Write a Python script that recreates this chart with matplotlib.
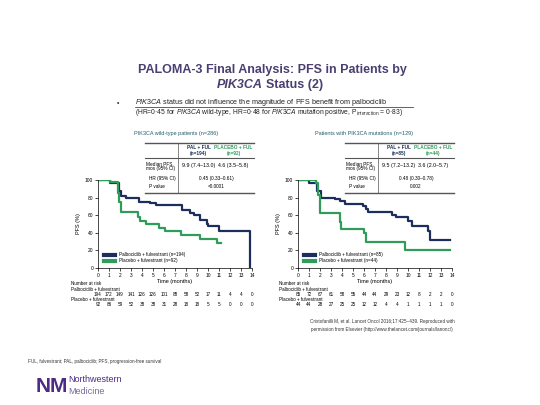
import matplotlib
matplotlib.use("Agg")
import matplotlib.pyplot as plt
from matplotlib.lines import Line2D

plt.rcParams['font.family'] = ['Liberation Sans', 'DejaVu Sans']
plt.rcParams['mathtext.fontset'] = 'custom'
plt.rcParams['mathtext.it'] = 'Liberation Sans:italic'
plt.rcParams['mathtext.rm'] = 'Liberation Sans'

# colours
NAVY = '#1c2f5c'
GREEN = '#2f9c5a'
TEAL = '#23606e'
TITLE = '#4a3f70'

# x ticks (months)
months = list(range(15))

# PIK3CA wild-type: step curves (time in months, PFS %)
wt_pal_t = [0, 1.1, 1.9, 2.1, 2.5, 3.7, 4.7, 5.3, 7.6, 8.4, 8.7, 9.3, 9.9, 10.0, 11.0, 13.85, 13.86]
wt_pal_s = [100, 97, 87, 82, 80, 75, 74, 72, 66, 63, 60, 54, 50, 48, 42, 42, 0]
wt_pbo_t = [0, 1.1, 1.8, 1.9, 2.1, 3.6, 3.8, 4.4, 5.5, 6.1, 7.5, 9.3, 10.8, 11.2]
wt_pbo_s = [100, 98, 85, 75, 64, 58, 53, 50, 45, 42, 37, 33, 28, 28]
wt_risk_pal = [194, 172, 149, 141, 126, 126, 101, 88, 58, 52, 17, 11, 4, 4, 0]
wt_risk_pbo = [92, 86, 59, 52, 38, 38, 31, 28, 18, 18, 5, 5, 0, 0, 0]

# PIK3CA mutation: step curves
mu_pal_t = [0, 1.0, 1.7, 2.1, 3.4, 3.8, 4.3, 5.9, 6.2, 6.4, 8.5, 8.9, 10.0, 10.4, 11.8, 12.0, 13.8]
mu_pal_s = [100, 97, 88, 80, 78, 76, 73, 70, 67, 64, 60, 58, 53, 48, 42, 32, 32]
mu_pbo_t = [0, 1.6, 1.8, 2.0, 3.6, 3.8, 3.9, 5.9, 6.0, 6.2, 9.7, 13.8]
mu_pbo_s = [100, 97, 83, 62, 62, 52, 44, 44, 40, 30, 20, 20]
mu_risk_pal = [85, 72, 67, 61, 58, 55, 44, 44, 29, 23, 12, 8, 2, 2, 0]
mu_risk_pbo = [44, 44, 28, 27, 25, 25, 12, 12, 4, 4, 1, 1, 1, 1, 0]

W, H = 540, 405
fig = plt.figure(figsize=(5.4, 4.05), dpi=100)


def fx(px):
    return px / W


def fy(py):
    return 1 - py / H


# title
fig.text(fx(272), fy(70), 'PALOMA-3 Final Analysis: PFS in Patients by', ha='center', va='center',
         fontsize=9, color=TITLE, fontweight='bold')
fig.text(fx(263), fy(85), 'PIK3CA', ha='right', va='center', fontsize=9, color=TITLE,
         fontweight='bold', fontstyle='italic')
fig.text(fx(266), fy(85), 'Status (2)', ha='left', va='center', fontsize=9, color=TITLE,
         fontweight='bold')

# bullet text
fig.text(fx(117), fy(103.5), '\u2022', ha='left', va='center', fontsize=5, color='#333333')
fig.text(fx(135), fy(103), r'$\it{PIK3CA}$ status did not influence the magnitude of PFS benefit from palbociclib',
         ha='left', va='center', fontsize=5.2, color='#222222')
fig.add_artist(Line2D([fx(135), fx(413)], [fy(106.8), fy(106.8)], color='#222222', lw=0.5))
fig.text(fx(135), fy(113), r'(HR=0·45 for $\it{PIK3CA}$ wild-type, HR=0·48 for $\it{PIK3CA}$ mutation positive, '
         r'P$_{\rm interaction}$ = 0·83)', ha='left', va='center', fontsize=4.9, color='#222222')


def km_panel(left_px, sub_x, nar_x, subtitle, pal_t, pal_s, pbo_t, pbo_s, risk_pal, risk_pbo,
             n_pal, n_pbo, med_pal, med_pbo, hr, pval):
    ax = fig.add_axes([fx(left_px), fy(268), fx(154), 88 / H])
    ax.step(pal_t, pal_s, where='post', color=NAVY, lw=1.6)
    ax.step(pbo_t, pbo_s, where='post', color=GREEN, lw=1.6)
    ax.set_xlim(0, 14)
    ax.set_ylim(0, 100)
    ax.set_xticks(months)
    ax.set_yticks([0, 20, 40, 60, 80, 100])
    ax.tick_params(labelsize=3.5, length=2, width=0.5, pad=1.5)
    for s in ['top', 'right']:
        ax.spines[s].set_visible(False)
    for s in ['left', 'bottom']:
        ax.spines[s].set_linewidth(0.5)
    ax.set_xlabel('Time (months)', fontsize=4, labelpad=1)
    ax.set_ylabel('PFS (%)', fontsize=4, labelpad=3)
    ax.legend(handles=[Line2D([], [], color=NAVY, lw=3),
                       Line2D([], [], color=GREEN, lw=3)],
              labels=['Palbociclib + fulvestrant (n=%d)' % n_pal,
                      'Placebo + fulvestrant (n=%d)' % n_pbo],
              loc='lower left', bbox_to_anchor=(0.02, 0.02), frameon=False,
              fontsize=3.3, handlelength=2.5, labelspacing=0.3, borderpad=0.1)

    # number at risk
    tr = ax.get_xaxis_transform()
    ax.text(nar_x, -0.18, 'Number at risk', transform=tr, fontsize=3.3, ha='left', va='center')
    ax.text(nar_x, -0.24, 'Palbociclib + fulvestrant', transform=tr, fontsize=3.3, ha='left', va='center')
    ax.text(nar_x, -0.355, 'Placebo + fulvestrant', transform=tr, fontsize=3.3, ha='left', va='center')
    for m, a, b in zip(months, risk_pal, risk_pbo):
        ax.text(m, -0.30, str(a), transform=tr, fontsize=3.3, ha='center', va='center')
        ax.text(m, -0.415, str(b), transform=tr, fontsize=3.3, ha='center', va='center')

    # subtitle
    fig.text(fx(sub_x), fy(134), subtitle, ha='center', va='center', fontsize=4, color=TEAL)

    # summary table
    x0 = left_px + 47
    x1 = left_px + 156
    xv = left_px + 80
    fig.add_artist(Line2D([fx(x0), fx(x1)], [fy(143), fy(143)], color='#555555', lw=1.0))
    fig.add_artist(Line2D([fx(x0), fx(x1)], [fy(158), fy(158)], color='#555555', lw=0.8))
    fig.add_artist(Line2D([fx(x0), fx(x1)], [fy(193), fy(193)], color='#555555', lw=1.0))
    fig.add_artist(Line2D([fx(xv), fx(xv)], [fy(143), fy(193)], color='#555555', lw=0.5))
    c1 = xv + (x1 - xv) * 0.27
    c2 = xv + (x1 - xv) * 0.73
    cm = (xv + x1) / 2
    fs = 3.4
    fig.text(fx(c1), fy(150.5), 'PAL + FUL\n(n=%d)' % n_pal, ha='center', va='center',
             fontsize=fs, color=NAVY, fontweight='bold', linespacing=1.3)
    fig.text(fx(c2), fy(150.5), 'PLACEBO + FUL\n(n=%d)' % n_pbo, ha='center', va='center',
             fontsize=fs, color=GREEN, fontweight='bold', linespacing=1.3)
    fig.text(fx(x0 + 1), fy(166), 'Median PFS,\nmos (95% CI)', ha='left', va='center',
             fontsize=fs, linespacing=1.1)
    fig.text(fx(c1), fy(166), med_pal, ha='center', va='center', fontsize=3.8)
    fig.text(fx(c2), fy(166), med_pbo, ha='center', va='center', fontsize=3.8)
    fig.text(fx(x0 + 4), fy(178), 'HR (95% CI)', ha='left', va='center', fontsize=fs)
    fig.text(fx(cm), fy(178), hr, ha='center', va='center', fontsize=fs)
    fig.text(fx(x0 + 4), fy(187), 'P value', ha='left', va='center', fontsize=fs)
    fig.text(fx(cm), fy(187), pval, ha='center', va='center', fontsize=fs)
    return ax


km_panel(98, 176, -2.45, 'PIK3CA wild-type patients (n=286)', wt_pal_t, wt_pal_s, wt_pbo_t, wt_pbo_s,
         wt_risk_pal, wt_risk_pbo, 194, 92, '9.9 (7.4–13.0)', '4.6 (3.5–5.8)',
         '0.45 (0.33–0.61)', '<0.0001')
km_panel(298, 364, -1.7, 'Patients with PIK3CA mutations (n=129)', mu_pal_t, mu_pal_s, mu_pbo_t, mu_pbo_s,
         mu_risk_pal, mu_risk_pbo, 85, 44, '9.5 (7.2–13.2)', '3.6 (2.0–5.7)',
         '0.48 (0.30–0.78)', '0.002')

# footnotes
fig.text(fx(382), fy(322), 'Cristofanilli M, et al. Lancet Oncol 2016;17:425–439. Reproduced with',
         ha='center', va='center', fontsize=3.3, color='#333333')
fig.text(fx(382), fy(329), 'permission from Elsevier (http://www.thelancet.com/journals/lanonc/)',
         ha='center', va='center', fontsize=3.3, color='#333333')
fig.text(fx(28), fy(361), 'FUL, fulvestrant; PAL, palbociclib; PFS, progression-free survival',
         ha='left', va='center', fontsize=3.3, color='#333333')

# logo
fig.text(fx(36), fy(386), 'NM', ha='left', va='center', fontsize=15, color='#4e2a84',
         fontweight='bold')
fig.text(fx(68), fy(379), 'Northwestern', ha='left', va='center', fontsize=6.5, color='#4e2a84')
fig.text(fx(68), fy(391), 'Medicine', ha='left', va='center', fontsize=6.5, color='#7a6a9a')

fig.savefig('out.png', dpi=100)
